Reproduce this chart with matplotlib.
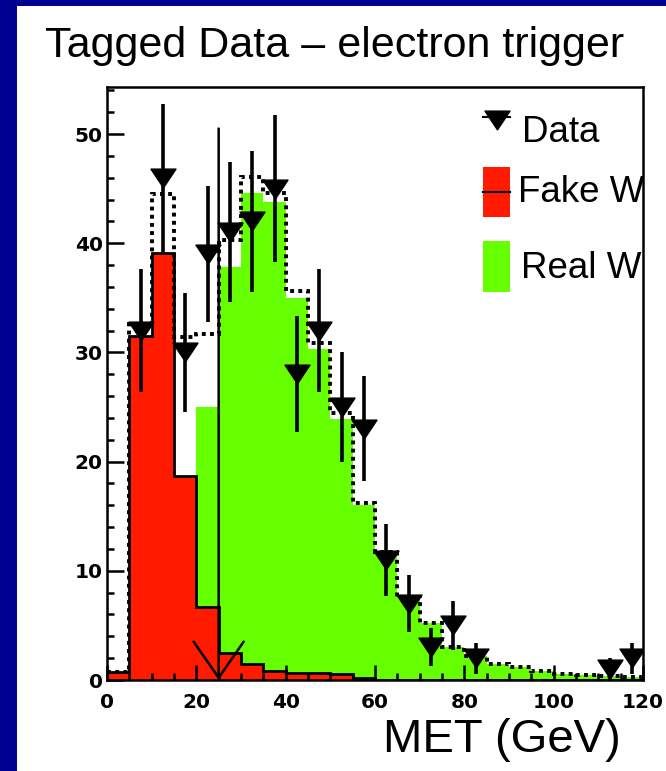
import numpy as np
import matplotlib
matplotlib.use("Agg")
import matplotlib.pyplot as plt
from matplotlib.patches import Rectangle
from matplotlib.lines import Line2D
from matplotlib.path import Path

# ---------------- data ----------------
bin_edges = np.arange(0, 125, 5)  # MET bins, GeV
fake_w = [0.7, 31.5, 39.1, 18.7, 6.7, 2.5, 1.5, 0.8, 0.6, 0.6, 0.55, 0.2,
          0.0, 0.0, 0.0, 0.0, 0.0, 0.0, 0.0, 0.0, 0.0, 0.0, 0.0, 0.0]
real_w = [0.0, 1.1, 5.4, 12.7, 25.0, 37.8, 44.6, 43.8, 35.0, 30.3, 23.9, 16.0,
          11.7, 7.6, 5.2, 3.0, 2.2, 1.5, 1.2, 0.8, 0.55, 0.5, 0.4, 0.3]
data_counts = [0, 32, 46, 30, 39, 41, 42, 45, 28, 32, 25, 23,
               11, 7, 3, 5, 2, 0, 0, 0, 0, 0, 1, 2]
cut_value = 25.0
arrow_top = 50.5
x_ticks = [0, 20, 40, 60, 80, 100, 120]
y_ticks = [0, 10, 20, 30, 40, 50]

title = "Tagged Data \u2013 electron trigger"
xlabel = "MET (GeV)"
legend_labels = ["Data", "Fake W", "Real W"]

RED = "#ff1a00"
GREEN = "#66ff00"
NAVY = "#000091"

# ---------------- figure ----------------
W, H = 666, 771
fig = plt.figure(figsize=(W / 100, H / 100), dpi=100)
fig.patch.set_facecolor(NAVY)
fig.add_artist(Rectangle((17 / W, 0), 1 - 17 / W, 1 - 6 / H,
                         transform=fig.transFigure, facecolor="white",
                         edgecolor="none", zorder=-10))

ax_l, ax_r, ax_t, ax_b = 107, 643, 87, 680
ax = fig.add_axes([ax_l / W, 1 - ax_b / H, (ax_r - ax_l) / W, (ax_b - ax_t) / H])
ax.set_facecolor("white")


def pa(px, py):
    """pixel -> axes fraction"""
    return (px - ax_l) / (ax_r - ax_l), (ax_b - py) / (ax_b - ax_t)


fake = np.array(fake_w)
real = np.array(real_w)
total = fake + real
counts = np.array(data_counts, dtype=float)
centers = 0.5 * (bin_edges[:-1] + bin_edges[1:])

ax.stairs(real, bin_edges, fill=True, facecolor=GREEN, edgecolor="none", zorder=1)
ax.stairs(fake, bin_edges, fill=True, facecolor=RED, edgecolor="none", zorder=1.1)
ax.stairs(fake, bin_edges, color="black", lw=2.0, zorder=1.2)
ax.stairs(total, bin_edges, color="black", lw=2.8,
          linestyle=(0, (1, 1.1)), zorder=2)

tri = Path([(-1, 0.75), (1, 0.75), (0, -0.75), (-1, 0.75)],
           [Path.MOVETO, Path.LINETO, Path.LINETO, Path.CLOSEPOLY])

m = counts > 0
ax.errorbar(centers[m], counts[m], yerr=np.sqrt(counts[m]), fmt="none",
            ecolor="black", elinewidth=2.6, capsize=0, zorder=4)
ax.plot(centers[m], counts[m], ls="none", marker=tri, ms=18, color="black",
        zorder=5)

ax.annotate("", xy=(cut_value, 0), xytext=(cut_value, arrow_top),
            arrowprops=dict(arrowstyle="->,head_length=2.6,head_width=1.8",
                            lw=1.8, color="black", shrinkA=0, shrinkB=0),
            zorder=6)

ax.set_xlim(0, 120)
ax.set_ylim(0, (ax_b - ax_t) / 10.92)
ax.set_xticks(x_ticks)
ax.set_yticks(y_ticks)
ax.set_xticks(np.arange(0, 121, 5), minor=True)
ax.set_yticks(np.arange(0, 55, 2), minor=True)
ax.tick_params(which="both", direction="in", width=1.8, top=False, right=False)
ax.tick_params(axis="x", which="major", length=11, pad=9)
ax.tick_params(axis="x", which="minor", length=5)
ax.tick_params(axis="y", which="major", length=12, pad=3)
ax.tick_params(axis="y", which="minor", length=5)
for lab in ax.get_xticklabels() + ax.get_yticklabels():
    lab.set_fontfamily("DejaVu Sans")
    lab.set_fontweight("bold")
    lab.set_fontsize(14.5)
for s in ax.spines.values():
    s.set_linewidth(1.8)
    s.set_zorder(7)

# ---------------- texts ----------------
fig.text(45 / W, 1 - 57 / H, title, fontsize=31, family="Liberation Sans",
         ha="left", va="baseline")
fig.text(383 / W, 1 - 752 / H, xlabel, fontsize=34, family="Liberation Sans",
         ha="left", va="baseline")

# ---------------- legend ----------------
x0, y0 = pa(483, 117)
x1, _ = pa(510, 117)
ax.add_line(Line2D([x0, x1], [y0, y0], color="black", lw=1.5,
                   transform=ax.transAxes, clip_on=False, zorder=8))
cx, cy = pa(496.5, 120)
ax.plot([cx], [cy], marker=tri, ms=18, color="black", transform=ax.transAxes,
        clip_on=False, zorder=8)
ax.text(*pa(522, 141.7), legend_labels[0], transform=ax.transAxes,
        fontsize=26.5, family="Liberation Sans", va="baseline", ha="left", zorder=8)

bx, by = pa(483, 217)
bx1, by1 = pa(510, 167)
ax.add_patch(Rectangle((bx, by), bx1 - bx, by1 - by, transform=ax.transAxes,
                       facecolor=RED, edgecolor="none", clip_on=False, zorder=8))
lx0, ly = pa(483, 192)
ax.add_line(Line2D([lx0, bx1], [ly, ly], color="black", lw=1.5,
                   transform=ax.transAxes, clip_on=False, zorder=9))
ax.text(*pa(518, 201.7), legend_labels[1], transform=ax.transAxes,
        fontsize=26.5, family="Liberation Sans", va="baseline", ha="left", zorder=8)

gx, gy = pa(483, 292)
gx1, gy1 = pa(510, 241)
ax.add_patch(Rectangle((gx, gy), gx1 - gx, gy1 - gy, transform=ax.transAxes,
                       facecolor=GREEN, edgecolor="none", clip_on=False, zorder=8))
ax.text(*pa(521, 278.3), legend_labels[2], transform=ax.transAxes,
        fontsize=26.5, family="Liberation Sans", va="baseline", ha="left", zorder=8)

fig.savefig("out.png", dpi=100, facecolor=fig.get_facecolor())
